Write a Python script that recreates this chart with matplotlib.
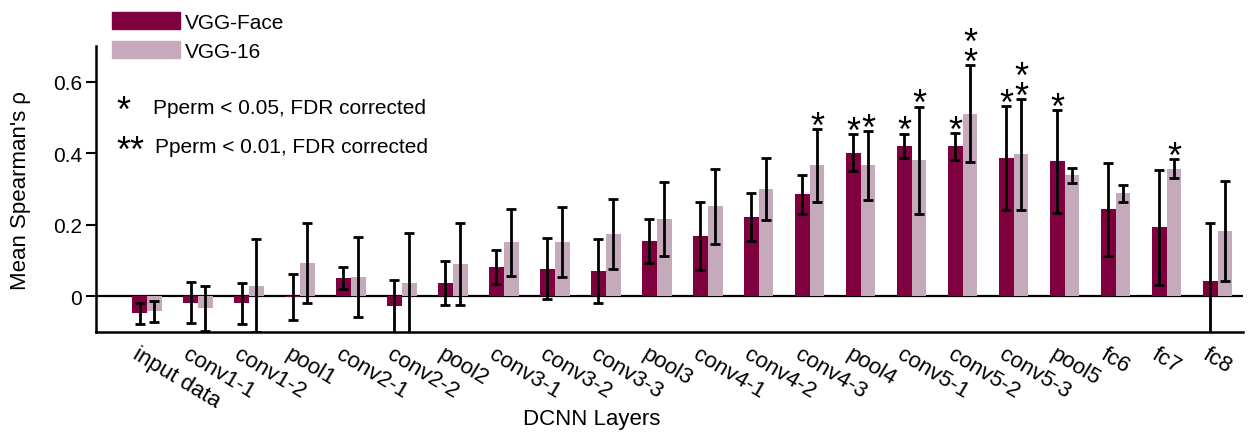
import matplotlib
matplotlib.use("Agg")
import matplotlib.pyplot as plt
import numpy as np
from matplotlib.patches import Patch

plt.rcParams['font.family'] = ['Liberation Sans', 'DejaVu Sans']

layers = ["input data", "conv1-1", "conv1-2", "pool1", "conv2-1", "conv2-2", "pool2",
          "conv3-1", "conv3-2", "conv3-3", "pool3", "conv4-1", "conv4-2", "conv4-3",
          "pool4", "conv5-1", "conv5-2", "conv5-3", "pool5", "fc6", "fc7", "fc8"]

face_mean = [-0.048, -0.018, -0.020, -0.002, 0.052, -0.028, 0.037,
             0.082, 0.077, 0.071, 0.155, 0.169, 0.221, 0.285,
             0.402, 0.421, 0.419, 0.386, 0.377, 0.243, 0.193, 0.042]
face_err = [0.029, 0.057, 0.058, 0.064, 0.031, 0.074, 0.062,
            0.048, 0.085, 0.090, 0.061, 0.095, 0.067, 0.055,
            0.052, 0.034, 0.037, 0.145, 0.143, 0.131, 0.161, 0.162]
vgg16_mean = [-0.042, -0.034, 0.029, 0.093, 0.054, 0.037, 0.090,
              0.151, 0.151, 0.174, 0.216, 0.252, 0.299, 0.366,
              0.366, 0.380, 0.511, 0.397, 0.338, 0.288, 0.357, 0.182]
vgg16_err = [0.030, 0.062, 0.130, 0.112, 0.113, 0.140, 0.115,
             0.093, 0.098, 0.099, 0.104, 0.105, 0.087, 0.102,
             0.096, 0.150, 0.135, 0.155, 0.020, 0.023, 0.026, 0.139]
face_sig = ["", "", "", "", "", "", "", "", "", "", "", "", "", "",
            "*", "*", "*", "*", "*", "", "", ""]
vgg16_sig = ["", "", "", "", "", "", "", "", "", "", "", "", "", "*",
             "*", "*", "**", "**", "", "", "*", ""]

dark = "#7F003F"
light = "#C4AABA"

fig = plt.figure(figsize=(12.52, 4.35), dpi=100)
ax = fig.add_axes([96/1252, 1-333/435, (1243-96)/1252, (333-47)/435])

x = np.arange(len(layers))
w = 0.29
ekw = dict(elinewidth=2.0, capthick=2.0, capsize=3.3, ecolor="black")
ax.bar(x - w/2, face_mean, w, color=dark, yerr=face_err, error_kw=ekw, label="VGG-Face")
ax.bar(x + w/2, vgg16_mean, w, color=light, yerr=vgg16_err, error_kw=ekw, label="VGG-16")
ax.axhline(0, color="black", lw=1.6, zorder=0.5)

def stars(xs, means, errs, sigs):
    for xi, m, e, s in zip(xs, means, errs, sigs):
        if not s:
            continue
        ax.annotate("\n".join("*" * len(s)), xy=(xi, m + e), xytext=(0, -5.5),
                    textcoords="offset points", ha="center", va="baseline",
                    multialignment="center", linespacing=0.44,
                    fontsize=26, annotation_clip=False)

stars(x - w/2, face_mean, face_err, face_sig)
stars(x + w/2, vgg16_mean, vgg16_err, vgg16_sig)

ax.set_xlim(-1.0, 21.5)
ax.set_ylim(-0.1, 0.7)
ax.set_yticks([0, 0.2, 0.4, 0.6])
ax.set_yticklabels(["0", "0.2", "0.4", "0.6"])
ax.set_xticks(x - 0.15)
ax.set_xticklabels(layers, rotation=-31, ha="left", va="top", rotation_mode="anchor")
ax.tick_params(axis="x", length=0, pad=8, labelsize=16)
ax.tick_params(axis="y", length=7.5, width=1.5, pad=2.5, labelsize=15, direction="out")
for s in ["top", "right"]:
    ax.spines[s].set_visible(False)
for s in ["left", "bottom"]:
    ax.spines[s].set_linewidth(1.8)

ax.set_ylabel("Mean Spearman's ρ", fontsize=16)
ax.yaxis.set_label_coords(-0.057, 0.5)
ax.set_xlabel("DCNN Layers", fontsize=16)
ax.xaxis.set_label_coords(0.432, -0.265)

handles = [Patch(color=dark, label="VGG-Face"), Patch(color=light, label="VGG-16")]
fig.legend(handles=handles, loc="upper left", bbox_to_anchor=(112/1252, 1 - 13/435),
           frameon=False, fontsize=15, handlelength=3.27, handleheight=0.885,
           handletextpad=0.25, labelspacing=0.44, borderaxespad=0, borderpad=0)

fig.text(116/1252, 1 - 122/435, "*", fontsize=26, ha="left", va="baseline")
fig.text(153/1252, 1 - 114/435, "Pperm < 0.05, FDR corrected", fontsize=15, ha="left", va="baseline")
fig.text(116/1252, 1 - 162/435, "**", fontsize=26, ha="left", va="baseline")
fig.text(155/1252, 1 - 153/435, "Pperm < 0.01, FDR corrected", fontsize=15, ha="left", va="baseline")

fig.savefig("out.png", dpi=100)
